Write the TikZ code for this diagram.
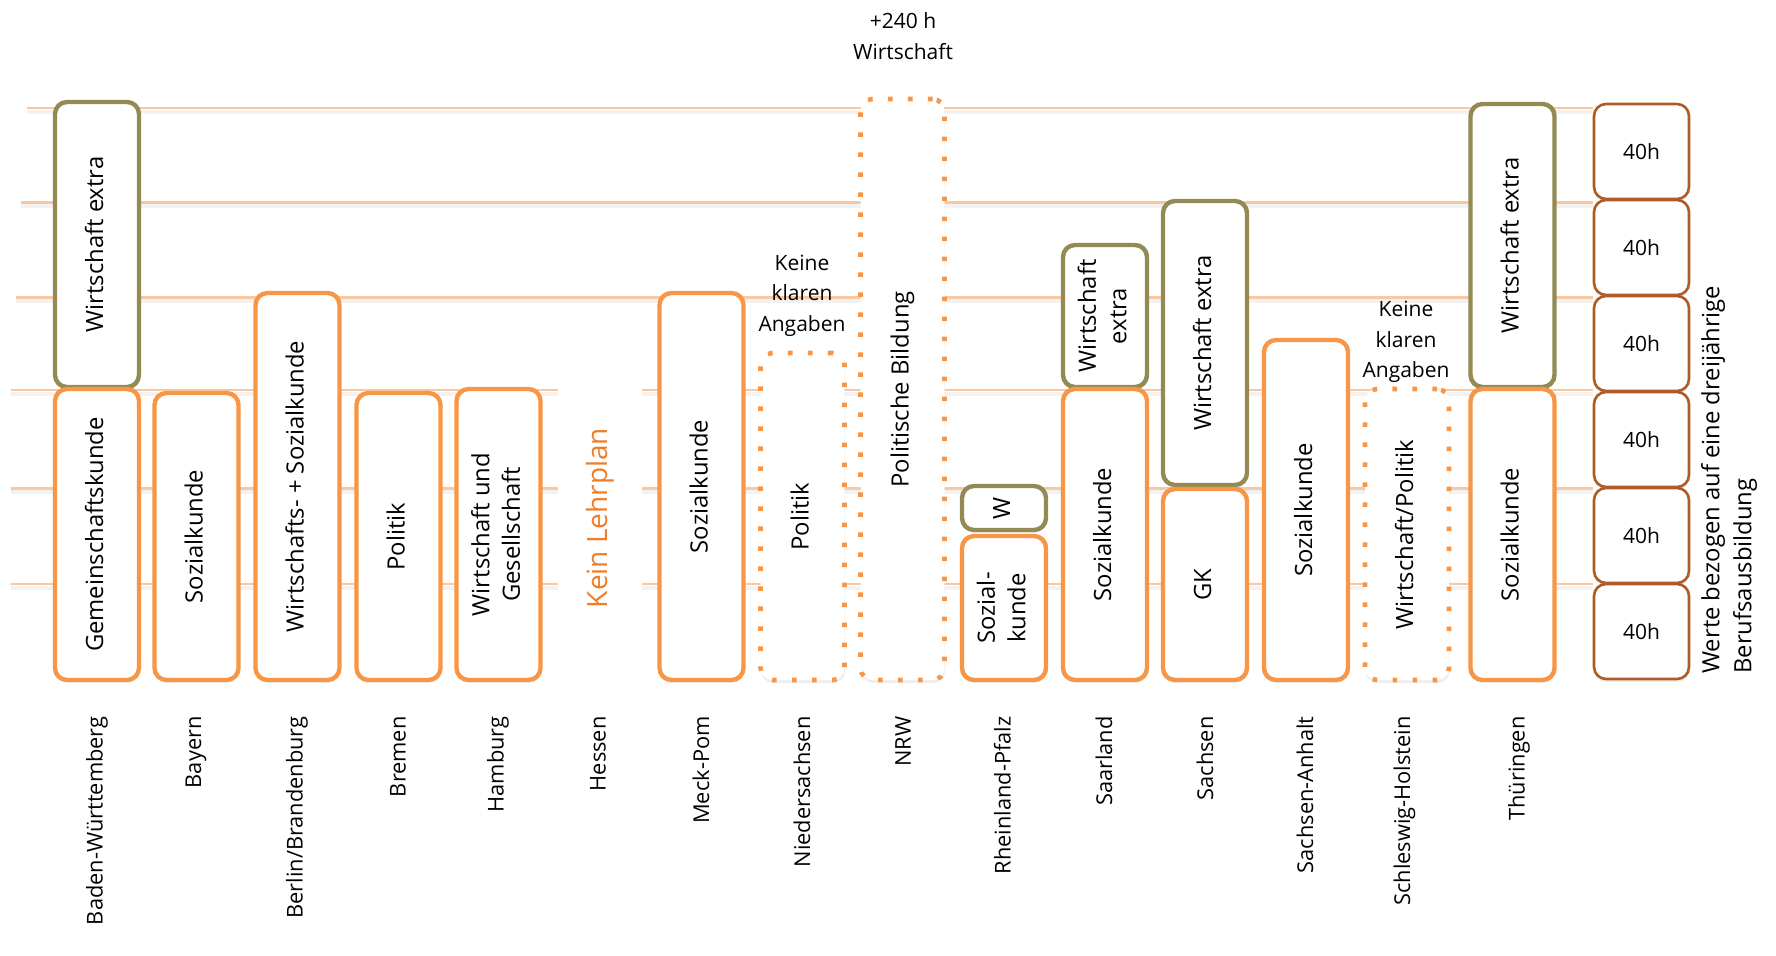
\documentclass[tikz,border=0pt]{standalone}
\usepackage{fontspec}
\usepackage{graphicx}
\setmainfont{Open Sans}
\usetikzlibrary{shadows}
\definecolor{orng}{RGB}{247,150,70}
\definecolor{olv}{RGB}{148,138,84}
\definecolor{brwn}{RGB}{172,92,36}
\definecolor{gridc}{RGB}{250,200,160}
\definecolor{keinc}{RGB}{240,125,40}
\newcommand\vtxt[1]{\rotatebox{90}{\begin{tabular}{@{}c@{}}#1\end{tabular}}}
\begin{document}
\begin{tikzpicture}[x=0.5pt,y=-0.5pt,
  base/.style={rectangle, rounded corners=6pt, fill=white, inner sep=0pt,
    minimum width=42pt, font=\fontsize{11.9}{15.3}\selectfont,
    drop shadow={opacity=0.12, shadow xshift=0.3pt, shadow yshift=-1.5pt}},
  obox/.style={base, draw=orng, line width=2.2pt},
  gbox/.style={base, draw=olv, line width=2.2pt},
  dbox/.style={base, draw=orng, line width=2.3pt, dash pattern=on 2.3pt off 7.7pt},
  hbox/.style={base, draw=brwn, line width=1.3pt, minimum width=47.5pt,
    minimum height=47.5pt, font=\fontsize{10.5}{13}\selectfont},
  state/.style={rotate=90, anchor=east, font=\fontsize{10.9}{13}\selectfont, inner sep=0pt},
  note/.style={align=center, font=\fontsize{10.5}{15.3}\selectfont, inner sep=0pt},
  gl/.style={draw=gridc, line width=1.2pt},
  gls/.style={draw=black, opacity=0.05, line width=2pt},
]
\useasboundingbox[fill=white] (0,0) rectangle (1776,956);

% grid lines (shadow, then line)
\foreach \y/\xa in {108/27, 202.5/21, 297.5/16} {
  \draw[gls] (\xa,\y+4) -- (1593,\y+4);
  \draw[gl] (\xa,\y) -- (1593,\y);
}
\foreach \y in {390, 488.5, 584} {
  \draw[gls] (11,\y+4) -- (558,\y+4);
  \draw[gls] (642,\y+4) -- (1593,\y+4);
  \draw[gl] (11,\y) -- (558,\y);
  \draw[gl] (642,\y) -- (1593,\y);
}

% Baden-Wuerttemberg
\node[gbox, minimum height=142.5pt] (bww) at (97,244.5) {\vtxt{Wirtschaft extra}};
\node[obox, minimum height=145.5pt] (bwg) at (97,534.5) {\vtxt{Gemeinschaftskunde}};
% Bayern
\node[obox, minimum height=143.5pt] (by) at (196.5,536.5) {\vtxt{Sozialkunde}};
% Berlin/Brandenburg
\node[obox, minimum height=193.5pt] (bb) at (297.5,486.5) {\vtxt{Wirtschafts- + Sozialkunde}};
% Bremen
\node[obox, minimum height=143.5pt] (hb) at (398.5,536.5) {\vtxt{Politik}};
% Hamburg
\node[obox, minimum height=145.5pt] (hh) at (498.5,534.5) {\vtxt{Wirtschaft und\\Gesellschaft}};
% Hessen
\node[rotate=90, text=keinc, font=\fontsize{14}{17}\selectfont, inner sep=0pt] (he) at (600,518) {Kein Lehrplan};
% Meck-Pom
\node[obox, minimum height=193.5pt] (mv) at (701.5,486.5) {\vtxt{Sozialkunde}};
% Niedersachsen
\node[dbox, minimum height=163.5pt] (ni) at (802.5,516.5) {\vtxt{Politik}};
\node[note] (nin) at (802,295.5) {Keine\\klaren\\Angaben};
% NRW
\node[dbox, minimum height=290.5pt] (nrw) at (902.5,389.5) {\vtxt{Politische Bildung}};
\node[note] (nrwn) at (903,36) {+240 h\\Wirtschaft};
% Rheinland-Pfalz
\node[gbox, minimum height=22pt] (rpw) at (1004,508) {\vtxt{W}};
\node[obox, minimum height=72pt] (rps) at (1004,608) {\vtxt{Sozial-\\kunde}};
% Saarland
\node[gbox, minimum height=71pt] (slw) at (1105,316) {\vtxt{Wirtschaft\\extra}};
\node[obox, minimum height=145.5pt] (sls) at (1105,534.5) {\vtxt{Sozialkunde}};
% Sachsen
\node[gbox, minimum height=142pt] (snw) at (1205,343) {\vtxt{Wirtschaft extra}};
\node[obox, minimum height=95.5pt] (sng) at (1205,584.5) {\vtxt{GK}};
% Sachsen-Anhalt
\node[obox, minimum height=170pt] (st) at (1306,510) {\vtxt{Sozialkunde}};
% Schleswig-Holstein
\node[dbox, minimum height=145.5pt] (sh) at (1407,534.5) {\vtxt{Wirtschaft/Politik}};
\node[note] (shn) at (1406,342) {Keine\\klaren\\Angaben};
% Thueringen
\node[gbox, minimum height=141.5pt] (thw) at (1512.5,245.5) {\vtxt{Wirtschaft extra}};
\node[obox, minimum height=145.5pt] (ths) at (1512.5,534.5) {\vtxt{Sozialkunde}};

% 40h scale
\foreach \i/\y in {1/151.5, 2/247.5, 3/343.5, 4/439.5, 5/535.5, 6/631.5} {
  \node[hbox] (h\i) at (1641.5,\y) {40h};
}
\node[rotate=90, anchor=west, align=left, font=\fontsize{11.9}{16}\selectfont, inner sep=0pt] (werte) at (1729,674)
  {Werte bezogen auf eine dreijährige\\Berufsausbildung};

% state labels
\node[state] (l1) at (97,716) {Baden-Württemberg};
\node[state] (l2) at (196,716) {Bayern};
\node[state] (l3) at (297,716) {Berlin/Brandenburg};
\node[state] (l4) at (398,716) {Bremen};
\node[state] (l5) at (498,716) {Hamburg};
\node[state] (l6) at (598,716) {Hessen};
\node[state] (l7) at (701,716) {Meck-Pom};
\node[state] (l8) at (802,716) {Niedersachsen};
\node[state] (l9) at (903,716) {NRW};
\node[state] (l10) at (1002.5,716) {Rheinland-Pfalz};
\node[state] (l11) at (1104,716) {Saarland};
\node[state] (l12) at (1205,716) {Sachsen};
\node[state] (l13) at (1305,716) {Sachsen-Anhalt};
\node[state] (l14) at (1404.5,716) {Schleswig-Holstein};
\node[state] (l15) at (1519,716) {Thüringen};
\end{tikzpicture}
\end{document}
